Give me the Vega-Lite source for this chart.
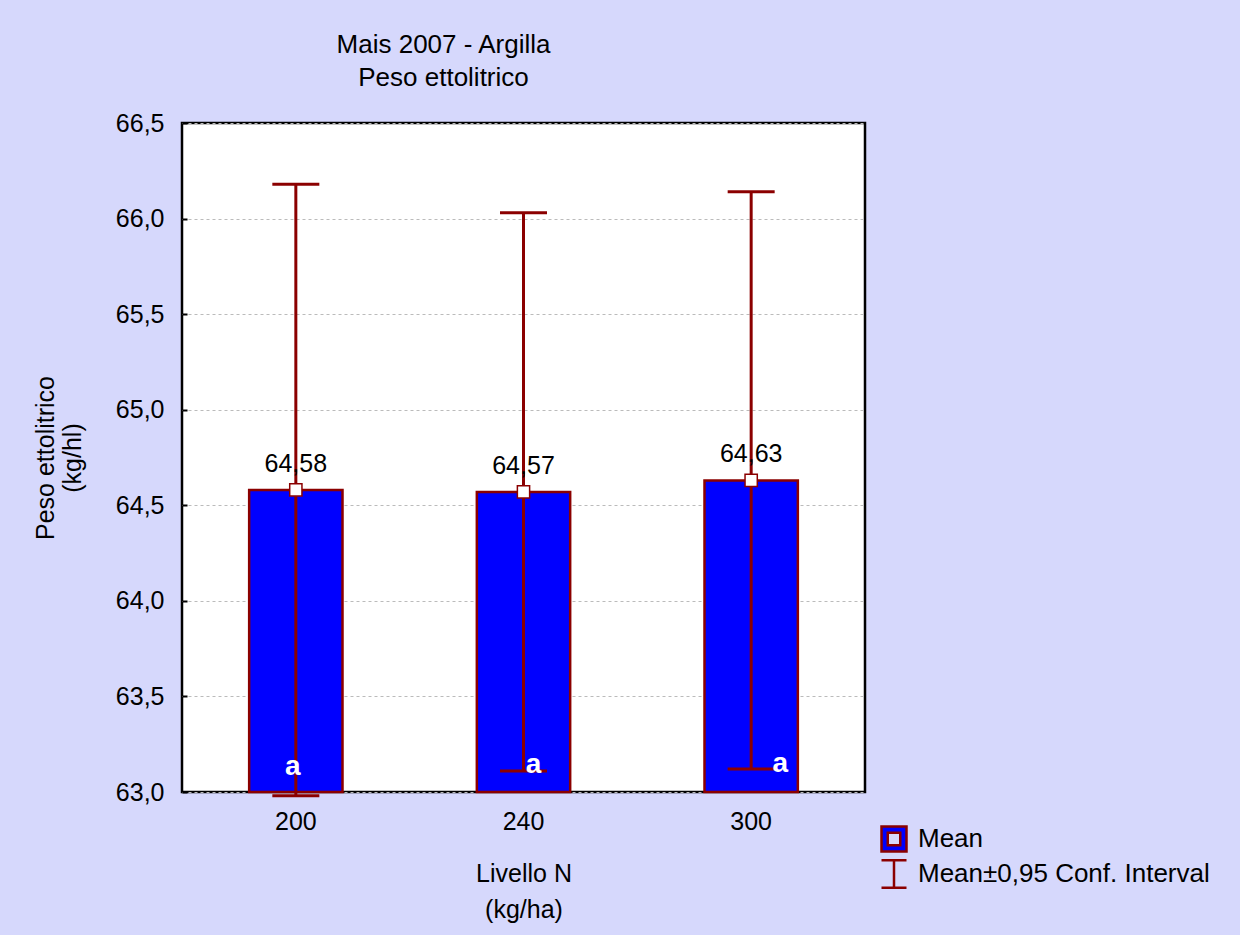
{
  "$schema": "https://vega.github.io/schema/vega-lite/v6.json",
  "width": 683,
  "height": 669,
  "autosize": {"type": "none"},
  "padding": {"left": 182, "top": 123, "right": 375, "bottom": 143},
  "background": "#D6D8FC",
  "config": {
    "font": "Liberation Sans",
    "locale": {"number": {"decimal": ",", "thousands": ".", "grouping": [3], "currency": ["", " €"]}},
    "view": {"stroke": "black", "strokeWidth": 2.5, "fill": "white"}
  },
  "title": {
    "text": ["Mais 2007 - Argilla", "Peso ettolitrico"],
    "fontSize": 26,
    "fontWeight": "normal",
    "color": "black",
    "anchor": "middle",
    "dx": -80,
    "offset": 20,
    "lineHeight": 33
  },
  "data": {
    "values": [
      {"N": "200", "mean": 64.58, "lower": 62.98, "upper": 66.18, "group": "a"},
      {"N": "240", "mean": 64.57, "lower": 63.11, "upper": 66.03, "group": "a"},
      {"N": "300", "mean": 64.63, "lower": 63.12, "upper": 66.14, "group": "a"}
    ]
  },
  "encoding": {
    "x": {
      "field": "N",
      "type": "ordinal",
      "scale": {"paddingInner": 0, "paddingOuter": 0},
      "axis": {
        "title": ["Livello N", "(kg/ha)"],
        "titleFontSize": 25,
        "titleFontWeight": "normal",
        "titleColor": "black",
        "titlePadding": 27,
        "titleLineHeight": 36,
        "labelAngle": 0,
        "labelFontSize": 25,
        "labelColor": "black",
        "labelPadding": 22,
        "tickSize": -5,
        "tickColor": "black",
        "tickWidth": 2,
        "domain": false,
        "grid": false
      }
    }
  },
  "layer": [
    {
      "mark": {"type": "bar", "stroke": "#8B0000", "strokeWidth": 2.5, "width": {"band": 0.41}},
      "encoding": {
        "y": {
          "field": "mean",
          "type": "quantitative",
          "scale": {"domain": [63, 66.5], "nice": false, "zero": false},
          "axis": {
            "title": ["Peso ettolitrico", "(kg/hl)"],
            "titleFontSize": 25,
            "titleFontWeight": "normal",
            "titleColor": "black",
            "titlePadding": 30,
            "titleLineHeight": 27,
            "values": [63, 63.5, 64, 64.5, 65, 65.5, 66, 66.5],
            "format": ".1f",
            "labelFontSize": 25,
            "labelColor": "black",
            "labelPadding": 23,
            "tickSize": -5,
            "tickColor": "black",
            "tickWidth": 2,
            "domain": false,
            "grid": true,
            "gridColor": "#BBBBBB",
            "gridDash": [3, 3],
            "gridWidth": 1
          }
        },
        "y2": {"datum": 63},
        "fill": {
          "datum": "Mean",
          "type": "nominal",
          "scale": {"domain": ["Mean"], "range": ["#0000FF"]},
          "legend": {
            "title": null,
            "orient": "none",
            "legendX": 698,
            "legendY": 702,
            "padding": 0,
            "labelFontSize": 26,
            "labelColor": "black",
            "labelOffset": 10,
            "labelLimit": 400,
            "symbolSize": 625,
            "symbolType": "M-1,-1H1V1H-1Z M-0.5,-0.5V0.5H0.5V-0.5Z",
            "symbolStrokeColor": "#8B0000",
            "symbolStrokeWidth": 2.5,
            "symbolOpacity": 1
          }
        }
      }
    },
    {
      "mark": {"type": "rule", "strokeWidth": 3},
      "encoding": {
        "y": {"field": "lower", "type": "quantitative"},
        "y2": {"field": "upper"},
        "stroke": {
          "datum": "Mean±0,95 Conf. Interval",
          "type": "nominal",
          "scale": {"domain": ["Mean±0,95 Conf. Interval"], "range": ["#8B0000"]},
          "legend": {
            "title": null,
            "orient": "none",
            "legendX": 698,
            "legendY": 737,
            "padding": 0,
            "labelFontSize": 26,
            "labelColor": "black",
            "labelOffset": 10,
            "labelLimit": 400,
            "symbolSize": 625,
            "symbolType": "M-1,-1.1H1M0,-1.1V1.1M-1,1.1H1",
            "symbolFillColor": "transparent",
            "symbolStrokeWidth": 2.5,
            "symbolOpacity": 1
          }
        }
      }
    },
    {
      "mark": {"type": "tick", "color": "#8B0000", "opacity": 1, "thickness": 3, "size": 47, "orient": "horizontal"},
      "encoding": {"y": {"field": "upper", "type": "quantitative"}}
    },
    {
      "mark": {"type": "tick", "color": "#8B0000", "opacity": 1, "thickness": 3, "size": 47, "orient": "horizontal"},
      "encoding": {"y": {"field": "lower", "type": "quantitative"}}
    },
    {
      "mark": {"type": "point", "shape": "square", "filled": true, "fill": "white", "stroke": "#8B0000", "strokeWidth": 1.5, "size": 150, "opacity": 1},
      "encoding": {"y": {"field": "mean", "type": "quantitative"}}
    },
    {
      "mark": {"type": "text", "fontSize": 25, "color": "black", "baseline": "middle", "dy": -26},
      "encoding": {
        "y": {"field": "mean", "type": "quantitative"},
        "text": {"field": "mean", "type": "quantitative", "format": ".2f"}
      }
    },
    {
      "transform": [{"filter": "datum.N === '200'"}],
      "mark": {"type": "text", "fontSize": 28, "fontWeight": "bold", "color": "white", "baseline": "middle", "dy": -25, "dx": -3},
      "encoding": {"y": {"datum": 63}, "text": {"field": "group"}}
    },
    {
      "transform": [{"filter": "datum.N === '240'"}],
      "mark": {"type": "text", "fontSize": 28, "fontWeight": "bold", "color": "white", "baseline": "middle", "dy": -27, "dx": 10},
      "encoding": {"y": {"datum": 63}, "text": {"field": "group"}}
    },
    {
      "transform": [{"filter": "datum.N === '300'"}],
      "mark": {"type": "text", "fontSize": 28, "fontWeight": "bold", "color": "white", "baseline": "middle", "dy": -28, "dx": 29},
      "encoding": {"y": {"datum": 63}, "text": {"field": "group"}}
    }
  ]
}
